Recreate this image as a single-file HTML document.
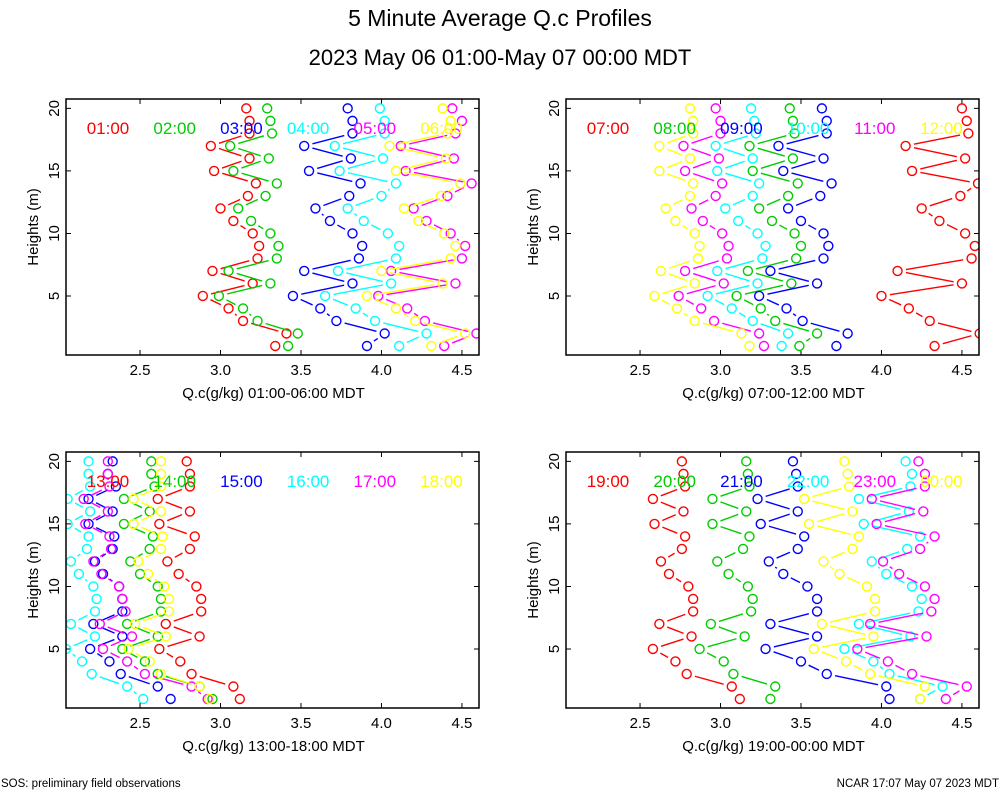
<!DOCTYPE html>
<html><head><meta charset="utf-8">
<style>
html,body{margin:0;padding:0;background:#fff;}
svg{display:block;font-family:"Liberation Sans",sans-serif;}
</style></head>
<body>
<svg id="chart" width="1000" height="800" viewBox="0 0 1000 800" xmlns="http://www.w3.org/2000/svg">
<text x="500" y="26" font-size="23" text-anchor="middle">5 Minute Average Q.c Profiles</text>
<text x="500" y="65" font-size="22" text-anchor="middle">2023 May 06 01:00-May 07 00:00 MDT</text>
<text x="1" y="787" font-size="11.5">SOS: preliminary field observations</text>
<text x="999" y="787" font-size="11.5" text-anchor="end">NCAR 17:07 May 07 2023 MDT</text>
</svg>
<script>
const heights = [20,19,18,17,16,15,14,13,12,11,10,9,8,7,6,5,4,3,2,1];
const xTicks = [2.5,3.0,3.5,4.0,4.5];
const xTickLabels = ["2.5","3.0","3.5","4.0","4.5"];
const yTicks = [5,10,15,20];
const yTickLabels = ["5","10","15","20"];
const seriesColors = ["#ff0000","#00cc00","#0000ff","#00ffff","#ff00ff","#ffff00"];
const panelTitles = ["Q.c(g/kg) 01:00-06:00 MDT","Q.c(g/kg) 07:00-12:00 MDT","Q.c(g/kg) 13:00-18:00 MDT","Q.c(g/kg) 19:00-00:00 MDT"];
const panelLabels = [["01:00","02:00","03:00","04:00","05:00","06:00"],["07:00","08:00","09:00","10:00","11:00","12:00"],["13:00","14:00","15:00","16:00","17:00","18:00"],["19:00","20:00","21:00","22:00","23:00","00:00"]];
// panel 1
const p1Red=[3.16,3.18,3.18,2.94,3.18,2.96,3.22,3.17,3.0,3.08,3.20,3.24,3.23,2.95,3.20,2.89,3.05,3.14,3.41,3.34];
const p1Green=[3.29,3.31,3.32,3.06,3.30,3.08,3.35,3.28,3.11,3.19,3.31,3.36,3.35,3.05,3.31,2.99,3.14,3.23,3.48,3.42];
const p1Blue=[3.79,3.82,3.82,3.52,3.81,3.55,3.87,3.80,3.59,3.68,3.82,3.88,3.86,3.52,3.82,3.45,3.62,3.72,4.02,3.91];
const p1Cyan=[3.99,4.02,4.02,3.71,4.01,3.74,4.09,4.0,3.79,3.89,4.04,4.11,4.09,3.73,4.06,3.65,3.84,3.96,4.28,4.11];
const p1Magenta=[4.44,4.50,4.46,4.12,4.45,4.15,4.56,4.41,4.20,4.28,4.43,4.52,4.50,4.06,4.46,3.98,4.16,4.27,4.59,4.39];
const p1Yellow=[4.38,4.43,4.41,4.05,4.40,4.09,4.49,4.37,4.14,4.23,4.39,4.46,4.43,4.0,4.38,3.91,4.09,4.21,4.52,4.31];
// panel 2
const p2Red=[4.50,4.53,4.54,4.15,4.52,4.19,4.60,4.49,4.25,4.36,4.52,4.58,4.56,4.10,4.50,4.0,4.17,4.30,4.61,4.33];
const p2Green=[3.43,3.45,3.46,3.18,3.45,3.20,3.48,3.42,3.24,3.32,3.46,3.50,3.47,3.17,3.44,3.10,3.25,3.34,3.60,3.49];
const p2Blue=[3.63,3.66,3.66,3.36,3.64,3.39,3.69,3.62,3.42,3.50,3.64,3.67,3.64,3.31,3.60,3.24,3.41,3.51,3.79,3.72];
const p2Cyan=[3.19,3.21,3.22,2.97,3.20,2.98,3.24,3.20,3.03,3.11,3.23,3.28,3.26,2.98,3.23,2.92,3.07,3.20,3.42,3.38];
const p2Magenta=[2.97,3.0,3.0,2.77,2.99,2.78,3.01,2.97,2.82,2.89,3.01,3.05,3.04,2.78,3.02,2.74,2.88,2.96,3.24,3.27];
const p2Yellow=[2.81,2.83,2.83,2.62,2.81,2.62,2.83,2.81,2.66,2.72,2.84,2.87,2.86,2.63,2.84,2.59,2.73,2.84,3.13,3.18];
// panel 3
const p3Red=[2.79,2.81,2.81,2.61,2.81,2.62,2.84,2.81,2.67,2.74,2.85,2.88,2.88,2.66,2.87,2.62,2.75,2.82,3.08,3.12];
const p3Green=[2.57,2.57,2.59,2.40,2.56,2.40,2.58,2.56,2.44,2.50,2.61,2.63,2.63,2.42,2.61,2.39,2.53,2.61,2.87,2.95];
const p3Blue=[2.33,2.30,2.35,2.18,2.33,2.18,2.34,2.33,2.22,2.27,2.37,2.39,2.39,2.21,2.39,2.19,2.31,2.38,2.61,2.69];
const p3Cyan=[2.18,2.18,2.19,2.05,2.19,2.05,2.18,2.17,2.07,2.12,2.21,2.23,2.22,2.07,2.22,2.04,2.14,2.20,2.42,2.52];
const p3Magenta=[2.30,2.30,2.31,2.15,2.30,2.16,2.31,2.32,2.21,2.26,2.37,2.39,2.41,2.25,2.45,2.27,2.42,2.53,2.82,2.92];
const p3Yellow=[2.63,2.63,2.63,2.46,2.63,2.46,2.64,2.63,2.49,2.55,2.65,2.68,2.68,2.47,2.66,2.43,2.56,2.63,2.87,2.93];
// panel 4
const p4Red=[2.76,2.77,2.78,2.58,2.77,2.59,2.78,2.76,2.63,2.68,2.80,2.83,2.83,2.62,2.82,2.58,2.72,2.79,3.07,3.12];
const p4Green=[3.16,3.17,3.18,2.95,3.16,2.95,3.18,3.14,2.98,3.05,3.17,3.20,3.19,2.94,3.15,2.87,3.02,3.08,3.34,3.31];
const p4Blue=[3.45,3.47,3.48,3.23,3.48,3.25,3.52,3.48,3.30,3.39,3.54,3.60,3.60,3.31,3.60,3.28,3.50,3.66,4.03,4.05];
const p4Cyan=[4.15,4.19,4.18,3.86,4.17,3.89,4.24,4.16,3.94,4.03,4.19,4.25,4.23,3.86,4.18,3.77,3.95,4.05,4.38,4.24];
const p4Magenta=[4.23,4.27,4.27,3.94,4.26,3.97,4.33,4.24,4.01,4.11,4.27,4.33,4.31,3.93,4.28,3.85,4.04,4.19,4.53,4.40];
const p4Yellow=[3.77,3.79,3.80,3.52,3.82,3.55,3.86,3.82,3.64,3.74,3.91,3.96,3.96,3.63,3.95,3.58,3.78,3.93,4.27,4.24];

const panelSeries = [
  [p1Red,p1Green,p1Blue,p1Cyan,p1Magenta,p1Yellow],
  [p2Red,p2Green,p2Blue,p2Cyan,p2Magenta,p2Yellow],
  [p3Red,p3Green,p3Blue,p3Cyan,p3Magenta,p3Yellow],
  [p4Red,p4Green,p4Blue,p4Cyan,p4Magenta,p4Yellow]
];

const NS="http://www.w3.org/2000/svg";
const svg=document.getElementById('chart');
const X_MIN=2.04, X_MAX=4.606, H_MIN=0.28, H_MAX=20.75;
const boxes=[{x:66,y:99},{x:566,y:99},{x:66,y:452},{x:566,y:452}];
const W=413, H=256;
function mk(tag,attrs,parent){const e=document.createElementNS(NS,tag);for(const k in attrs)e.setAttribute(k,attrs[k]);parent.appendChild(e);return e;}

boxes.forEach((b,pi)=>{
  const g=mk('g',{},svg);
  
  
  const xs=v=>b.x+(v-X_MIN)/(X_MAX-X_MIN)*W;
  const ys=h=>b.y+H-(h-H_MIN)/(H_MAX-H_MIN)*H;
  const cid='clip'+pi;
  const cp=mk('clipPath',{id:cid},g);
  mk('rect',{x:b.x,y:b.y,width:W,height:H},cp);
  xTicks.forEach((t,i)=>{
    const x=xs(t);
    const tk=mk('path',{d:`M${x},${b.y+H}v-5M${x},${b.y}v5`,stroke:'#000','stroke-width':1},g);
    
    
    const tl=mk('text',{x:x,y:b.y+H+20,'font-size':15,'text-anchor':'middle'},g);
    tl.textContent=xTickLabels[i];
    
    
  });
  yTicks.forEach((t,i)=>{
    const y=ys(t);
    const tk=mk('path',{d:`M${b.x},${y}h5M${b.x+W},${y}h-5`,stroke:'#000','stroke-width':1},g);
    
    
    const tl=mk('text',{x:b.x-11,y:y,'font-size':15,'text-anchor':'middle',transform:`rotate(-90 ${b.x-11} ${y})`,'dominant-baseline':'middle'},g);
    tl.textContent=yTickLabels[i];
    
    
  });
  const yt=mk('text',{x:b.x-32,y:b.y+H/2,'font-size':15,'text-anchor':'middle','dominant-baseline':'middle',transform:`rotate(-90 ${b.x-32} ${b.y+H/2})`},g);
  yt.textContent='Heights (m)';
  
  
  const xt=mk('text',{x:b.x+W/2+1,y:b.y+H+43,'font-size':15,'text-anchor':'middle'},g);
  xt.textContent=panelTitles[pi];
  
  
  const plot=mk('g',{'clip-path':`url(#${cid})`},g);
  panelSeries[pi].forEach((vals,si)=>{
    const col=seriesColors[si];
    const sg=mk('g',{},plot);
    
    
    const r=4.5;
    for(let k=0;k<vals.length-1;k++){
      const x1=xs(vals[k]),y1=ys(heights[k]),x2=xs(vals[k+1]),y2=ys(heights[k+1]);
      const dx=x2-x1,dy=y2-y1,L=Math.hypot(dx,dy),gap=r+4;
      if(L>2*gap+1){
        const ux=dx/L,uy=dy/L;
        const ln=mk('line',{x1:x1+ux*gap,y1:y1+uy*gap,x2:x2-ux*gap,y2:y2-uy*gap,stroke:col,'stroke-width':1.4},sg);
        
        
      }
    }
    vals.forEach((v,k)=>{
      const c=mk('circle',{cx:xs(v),cy:ys(heights[k]),r:r,fill:'none',stroke:col,'stroke-width':1.4},sg);
      
      
    });
  });
  panelLabels[pi].forEach((lab,si)=>{
    const t=mk('text',{x:b.x+42+si*66.7,y:b.y+35,'font-size':17,'text-anchor':'middle',fill:seriesColors[si]},g);
    t.textContent=lab;
    
    
  });
  const fr=mk('rect',{x:b.x,y:b.y,width:W,height:H,fill:'none',stroke:'#000','stroke-width':1.5},g);
  
  
});
</script>
</body></html>
